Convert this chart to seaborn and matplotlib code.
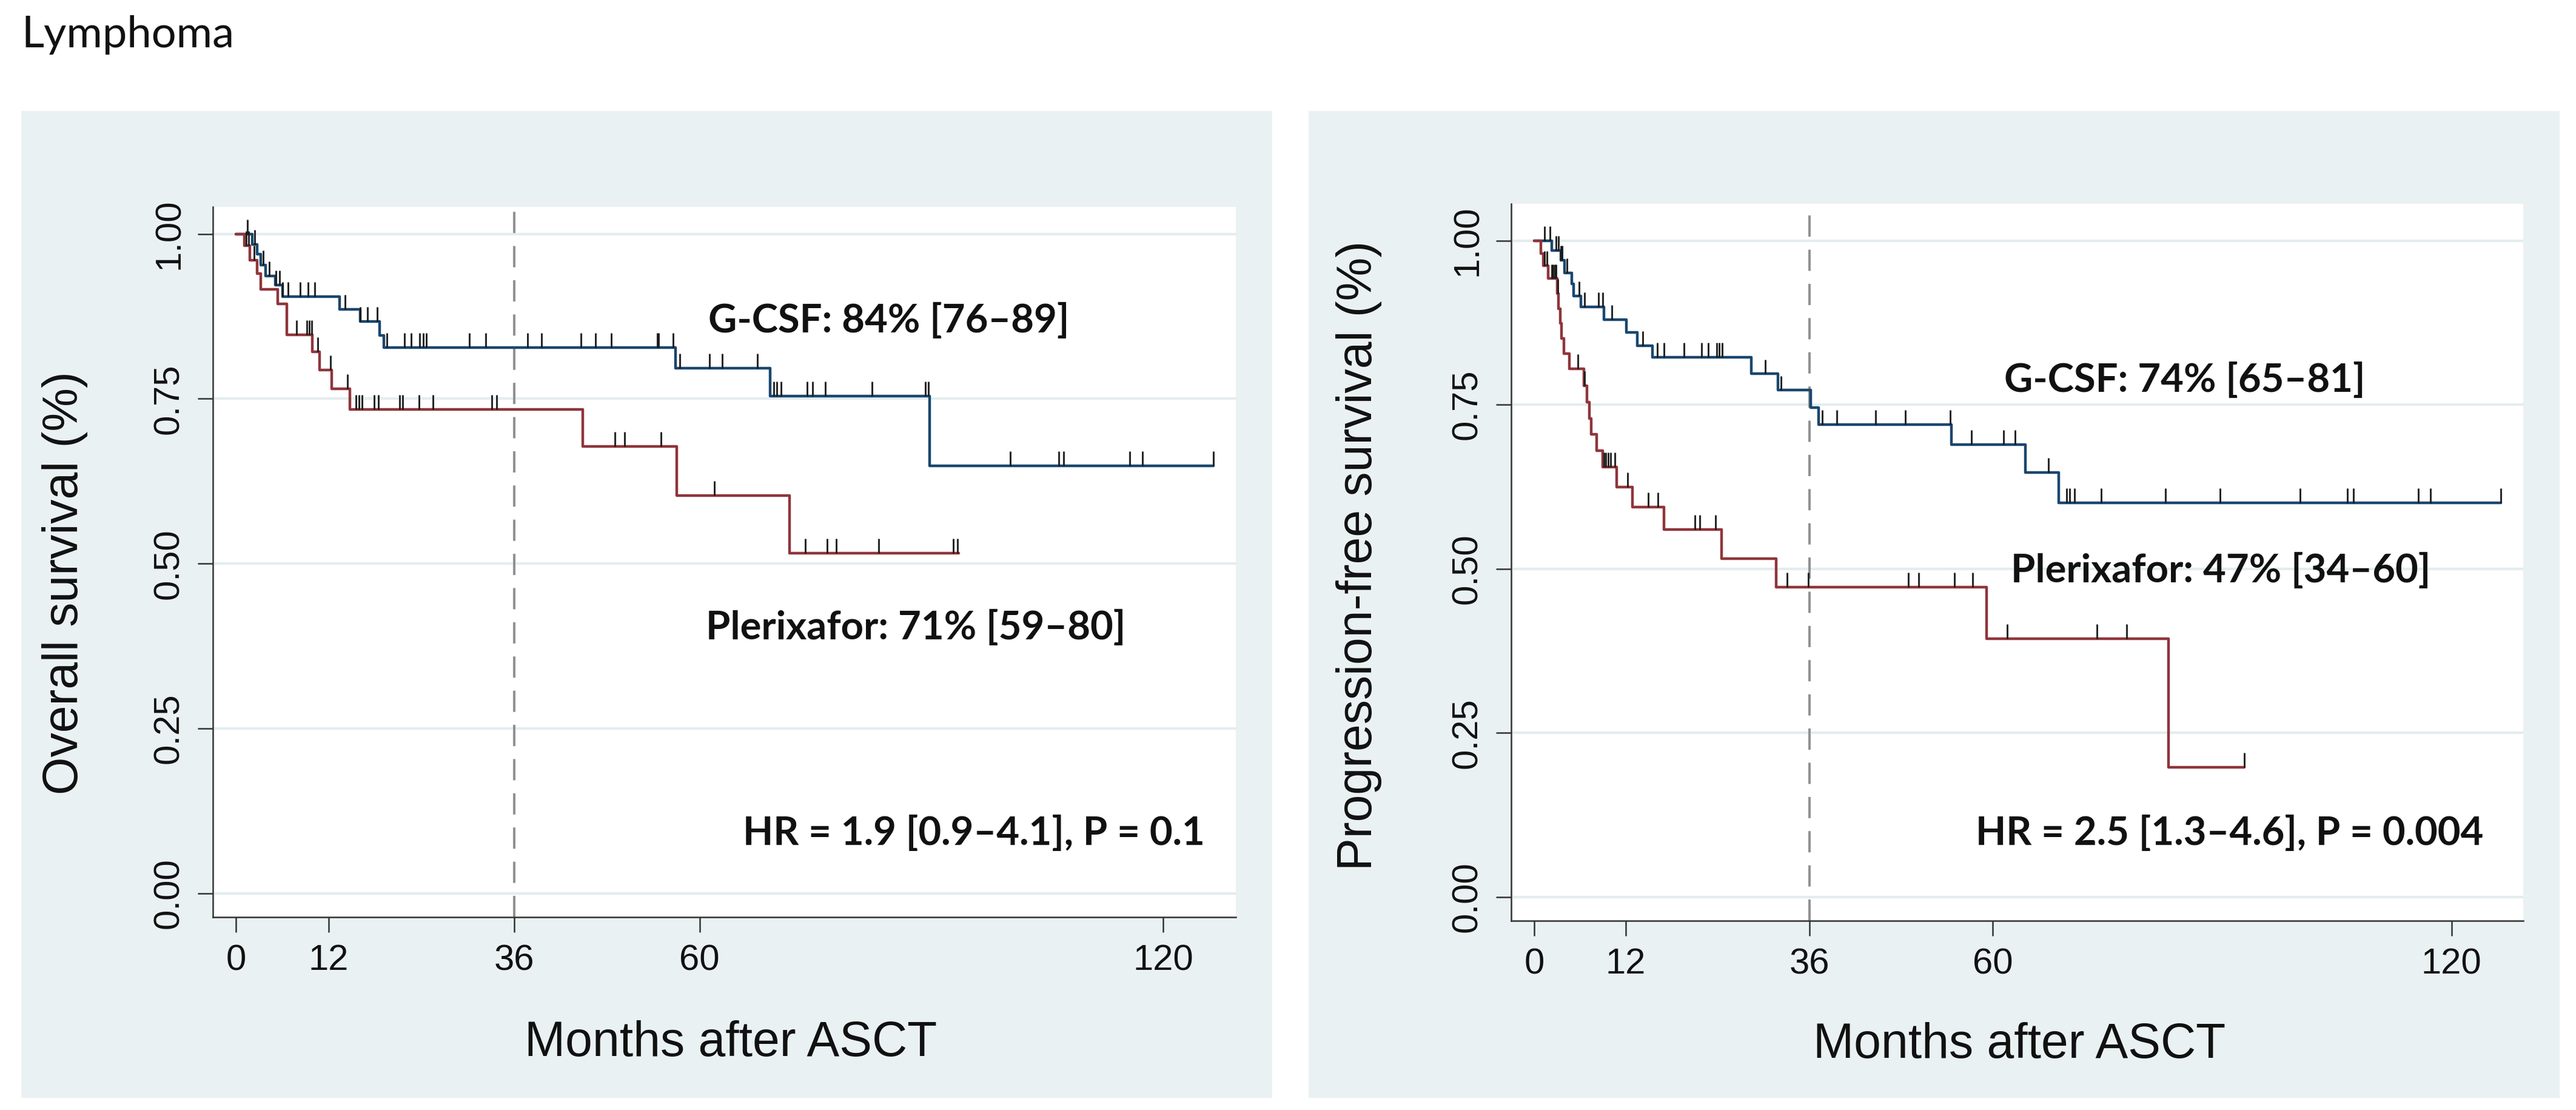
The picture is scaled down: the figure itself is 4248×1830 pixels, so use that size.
import numpy as np
import pandas as pd
import matplotlib
matplotlib.use("Agg")
import matplotlib.pyplot as plt
from matplotlib.patches import Rectangle
import seaborn as sns

# ------------------------------------------------------------
# Datos (Kaplan-Meier, meses tras ASCT)
# ------------------------------------------------------------
# Supervivencia global (OS)
os_gcsf_time = [0, 2.1, 2.7, 3.2, 3.8, 5.1, 6.0, 13.4, 16.1, 18.6, 19.1, 56.9, 69.1, 89.8, 126.5]
os_gcsf_surv = [1.0, 0.984, 0.969, 0.953, 0.936, 0.922, 0.905, 0.886, 0.867, 0.846, 0.828, 0.796, 0.754, 0.648, 0.648]
os_gcsf_cens = [1.5, 2.4, 3.5, 4.3, 5.2, 5.6, 6.0, 6.7, 8.3, 9.3, 10.2, 14.1, 16.1, 17.0, 18.3, 19.5,
                21.8, 22.7, 23.8, 24.2, 24.6, 30.2, 32.3, 37.7, 39.5, 44.6, 46.5, 48.6, 54.5, 54.7,
                56.6, 57.4, 61.3, 62.9, 67.5, 69.6, 70.0, 70.5, 73.9, 74.6, 76.3, 82.3, 89.2, 89.6,
                100.2, 106.5, 107.1, 115.7, 117.3, 126.5]

os_plx_time = [0, 1.1, 1.8, 2.7, 3.2, 5.4, 6.6, 9.9, 10.8, 12.4, 14.7, 44.9, 57.0, 71.6, 93.5]
os_plx_surv = [1.0, 0.982, 0.960, 0.940, 0.916, 0.894, 0.847, 0.821, 0.794, 0.765, 0.734, 0.678, 0.603, 0.516, 0.516]
os_plx_cens = [1.3, 1.6, 2.3, 7.8, 9.2, 9.5, 9.8, 10.6, 12.2, 14.4, 15.5, 15.9, 16.3, 17.9, 18.4,
               21.2, 21.6, 23.7, 25.5, 33.1, 33.7, 49.0, 50.3, 55.0, 61.9, 73.7, 76.5, 77.7, 83.2,
               92.8, 93.4]

# Supervivencia libre de progresion (PFS)
pfs_gcsf_time = [0, 2.3, 3.5, 4.0, 4.9, 5.2, 6.1, 9.1, 12.1, 13.5, 15.5, 28.4, 31.9, 36.2, 37.2,
                 54.6, 64.3, 68.6, 126.5]
pfs_gcsf_surv = [1.0, 0.985, 0.970, 0.951, 0.934, 0.916, 0.899, 0.880, 0.860, 0.840, 0.822, 0.797,
                 0.772, 0.746, 0.720, 0.689, 0.647, 0.601, 0.601]
pfs_gcsf_cens = [1.4, 2.1, 2.9, 3.2, 3.5, 3.7, 4.3, 5.9, 6.6, 8.4, 9.0, 10.2, 14.2, 16.1, 17.0, 19.6,
                 21.9, 22.8, 23.9, 24.2, 24.6, 30.2, 32.3, 37.7, 39.6, 44.7, 48.6, 54.4, 57.2, 61.4,
                 62.9, 67.3, 69.7, 70.1, 70.7, 74.2, 82.6, 89.7, 100.2, 106.4, 107.2, 115.7, 117.3, 126.5]

pfs_plx_time = [0, 0.9, 1.2, 1.8, 3.0, 3.2, 3.4, 3.6, 3.9, 4.6, 6.5, 6.9, 7.2, 7.5, 8.2, 9.0, 10.8,
                12.9, 17.0, 24.5, 31.7, 59.2, 83.0, 92.9]
pfs_plx_surv = [1.0, 0.980, 0.962, 0.942, 0.919, 0.896, 0.874, 0.851, 0.828, 0.805, 0.779, 0.754,
                0.729, 0.705, 0.680, 0.655, 0.625, 0.594, 0.560, 0.516, 0.472, 0.394, 0.198, 0.198]
pfs_plx_cens = [1.4, 1.7, 2.3, 2.5, 2.7, 2.9, 3.1, 5.7, 6.6, 9.1, 9.4, 9.7, 10.0, 10.6, 12.2, 14.9,
                16.2, 21.0, 21.7, 23.7, 33.1, 35.9, 49.0, 50.3, 55.0, 57.4, 61.9, 73.6, 77.5, 92.9]

x_ticks = [0, 12, 36, 60, 120]
y_ticks = [0.0, 0.25, 0.50, 0.75, 1.0]

os_labels = ["G-CSF: 84% [76\u201389]", "Plerixafor: 71% [59\u201380]", "HR = 1.9 [0.9\u20134.1], P = 0.1"]
pfs_labels = ["G-CSF: 74% [65\u201381]", "Plerixafor: 47% [34\u201360]", "HR = 2.5 [1.3\u20134.6], P = 0.004"]

# ------------------------------------------------------------
# Estilo
# ------------------------------------------------------------
sns.set_theme(style="white")
plt.rcParams["font.family"] = ["Liberation Sans", "DejaVu Sans"]

BLUE = "#1a476f"
RED = "#90353b"
PANEL = "#eaf1f2"
GRID = "#e3edef"
AXIS = "#333333"

W, H = 4248, 1830
fig = plt.figure(figsize=(W / 100, H / 100), dpi=100)
fig.patch.set_facecolor("white")


def fx(px):
    return px / W


def fy(px):
    return 1 - px / H


# fondos de los paneles
for x0, x1 in [(35, 2098), (2158, 4221)]:
    fig.patches.append(Rectangle((fx(x0), fy(1810)), fx(x1) - fx(x0), fy(183) - fy(1810),
                                 transform=fig.transFigure, facecolor=PANEL, edgecolor="none",
                                 zorder=-1))


def step_value(times, surv, t):
    idx = np.searchsorted(times, t, side="right") - 1
    return np.asarray(surv)[idx]


def km_panel(ax, curves, ylim, labels, label_pos):
    for times, surv, cens, color in curves:
        df = pd.DataFrame({"t": times, "s": surv})
        sns.lineplot(data=df, x="t", y="s", ax=ax, color=color, lw=3.2,
                     drawstyle="steps-post", estimator=None, sort=True, zorder=3)
        s_c = step_value(times, surv, cens)
        ax.vlines(cens, s_c, s_c + 0.022, color="#1a1a1a", lw=2.0, zorder=4)

    ax.axvline(36, color="#8f8f8f", lw=2.8, ls=(0, (9.0, 5.5)), zorder=2)
    ax.set_xlim(-3.0, 129.4)
    ax.set_ylim(*ylim)
    ax.set_xticks(x_ticks)
    ax.set_yticks(y_ticks)
    ax.set_yticklabels([f"{v:.2f}" for v in y_ticks])
    ax.set_xlabel("")
    ax.set_ylabel("")
    ax.grid(axis="y", color=GRID, lw=3)
    ax.grid(axis="x", visible=False)
    ax.set_axisbelow(True)
    ax.set_facecolor("white")
    sns.despine(ax=ax)
    for side in ["left", "bottom"]:
        ax.spines[side].set_color(AXIS)
        ax.spines[side].set_linewidth(1.8)
    ax.tick_params(axis="both", bottom=True, left=True, length=18, width=1.8, color=AXIS,
                   labelsize=43, labelcolor="#111111", direction="out")
    ax.tick_params(axis="x", pad=14)
    ax.tick_params(axis="y", pad=14)
    for lab in ax.get_yticklabels():
        lab.set_rotation(90)
        lab.set_va("center")

    for txt, (x, y, ha) in zip(labels, label_pos):
        ax.text(x, y, txt, ha=ha, va="center", fontsize=47, fontweight="bold",
                family=["Lato", "DejaVu Sans"], color="#111111", zorder=5)


ax1 = fig.add_axes([fx(351), fy(1512), fx(2038) - fx(351), fy(341) - fy(1512)])
km_panel(ax1,
         [(os_gcsf_time, os_gcsf_surv, os_gcsf_cens, BLUE),
          (os_plx_time, os_plx_surv, os_plx_cens, RED)],
         (-0.036, 1.041), os_labels,
         [(61.1, 0.868, "left"), (60.8, 0.403, "left"), (125.4, 0.091, "right")])

ax2 = fig.add_axes([fx(2492), fy(1518), fx(4161) - fx(2492), fy(336) - fy(1518)])
km_panel(ax2,
         [(pfs_gcsf_time, pfs_gcsf_surv, pfs_gcsf_cens, BLUE),
          (pfs_plx_time, pfs_plx_surv, pfs_plx_cens, RED)],
         (-0.036, 1.056), pfs_labels,
         [(61.5, 0.787, "left"), (62.4, 0.497, "left"), (124.2, 0.097, "right")])

# titulos de ejes
fig.text(fx(107), fy(961), "Overall survival (%)", rotation=90, ha="center", va="center",
         fontsize=58, color="#111111")
fig.text(fx(2241), fy(916), "Progression-free survival (%)", rotation=90, ha="center", va="center",
         fontsize=58, color="#111111")
fig.text(fx(1205), fy(1741), "Months after ASCT", ha="center", va="baseline", fontsize=58,
         color="#111111")
fig.text(fx(3330), fy(1744), "Months after ASCT", ha="center", va="baseline", fontsize=58,
         color="#111111")

fig.text(fx(35), fy(78), "Lymphoma", ha="left", va="baseline", fontsize=52,
         family=["Lato", "DejaVu Sans"], color="#111111")

fig.savefig("out.png", dpi=100, facecolor="white")
plt.close(fig)
